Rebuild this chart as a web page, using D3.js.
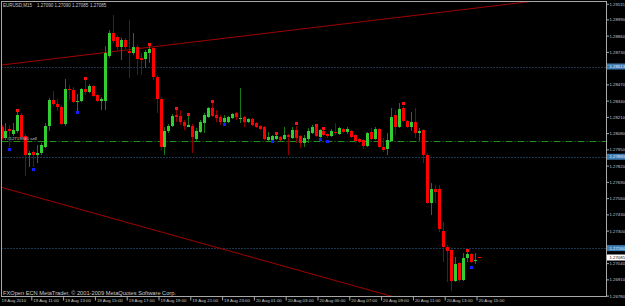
<!DOCTYPE html>
<html>
<head>
<meta charset="utf-8">
<script src="https://cdn.jsdelivr.net/npm/d3@7"></script>
<style>
html, body { margin: 0; padding: 0; background: #000; overflow: hidden; }
text { font-family: "Liberation Sans", Arial, sans-serif; }
</style>
</head>
<body>
<svg id="chart" width="625" height="306"></svg>
<script>
// EURUSD M15, one bar every 15 minutes from 19 Aug 2010 09:00
var opens = [
  1.28129,1.28041,1.28113,1.28073,1.28097,1.28225,1.28057,1.27905,1.27929,1.27905,
  1.27921,1.27969,1.28137,1.28345,1.28313,1.28289,1.28153,1.28433,1.28425,1.28329,
  1.28337,1.28433,1.28409,1.28457,1.28385,1.28337,1.28337,1.28697,1.28881,1.28849,
  1.28769,1.28825,1.28737,1.28721,1.28769,1.28681,1.28673,1.28721,1.28761,1.28529,
  1.28353,1.27969,1.28097,1.28137,1.28225,1.28217,1.28169,1.28129,1.28137,1.28033,
  1.28089,1.28161,1.28209,1.28281,1.28225,1.28209,1.28169,1.28169,1.28201,1.28241,
  1.28193,1.28209,1.28169,1.28193,1.28161,1.28137,1.28129,1.28025,1.28025,1.28033,
  1.28049,1.28033,1.28065,1.28041,1.28105,1.28057,1.28001,1.28033,1.28081,1.28129,
  1.28049,1.28097,1.28073,1.28057,1.28089,1.28073,1.28113,1.28089,1.28097,1.28065,
  1.28033,1.28025,1.27977,1.28089,1.28033,1.28113,1.27969,1.27953,1.28017,1.28225,
  1.28129,1.28281,1.28177,1.28129,1.28169,1.28081,1.28105,1.27905,1.27521,1.27633,
  1.27633,1.27297,1.27169,1.27145,1.26897,1.27041,1.26905,1.27081,1.27113,1.27057,
  1.27090];
var highs = [
  1.28145,1.28161,1.28145,1.28161,1.28257,1.28241,1.28073,1.27937,1.27945,1.27985,
  1.28001,1.28161,1.28361,1.28417,1.28353,1.28305,1.28513,1.28465,1.28449,1.28393,
  1.28441,1.28505,1.28473,1.28465,1.28393,1.28369,1.28777,1.28905,1.29025,1.28865,
  1.28841,1.28841,1.28985,1.28881,1.28785,1.28721,1.28745,1.28785,1.28777,1.28545,
  1.28369,1.28129,1.28153,1.28233,1.28273,1.28265,1.28185,1.28225,1.28153,1.28121,
  1.28185,1.28241,1.28289,1.28329,1.28265,1.28225,1.28225,1.28217,1.28241,1.28249,
  1.28441,1.28217,1.28201,1.28201,1.28169,1.28145,1.28137,1.28089,1.28065,1.28065,
  1.28057,1.28129,1.28073,1.28129,1.28137,1.28065,1.28065,1.28121,1.28145,1.28137,
  1.28113,1.28121,1.28081,1.28113,1.28161,1.28129,1.28121,1.28129,1.28105,1.28073,
  1.28041,1.28033,1.28089,1.28121,1.28129,1.28121,1.28041,1.28081,1.28281,1.28265,
  1.28321,1.28297,1.28185,1.28249,1.28281,1.28121,1.28113,1.27921,1.27681,1.27665,
  1.27665,1.27369,1.27185,1.27161,1.27089,1.27049,1.27121,1.27129,1.27121,1.27121,
  1.27090];
var lows = [
  1.28025,1.28025,1.27969,1.28057,1.28081,1.28033,1.27737,1.27809,1.27809,1.27841,
  1.27905,1.27961,1.28097,1.28297,1.28257,1.28145,1.28137,1.28345,1.28321,1.28257,
  1.28329,1.28385,1.28401,1.28369,1.28329,1.28265,1.28265,1.28681,1.28801,1.28745,
  1.28665,1.28753,1.28521,1.28705,1.28545,1.28545,1.28601,1.28641,1.28505,1.28241,
  1.27945,1.27905,1.28081,1.28129,1.28169,1.28145,1.28105,1.28129,1.27921,1.28009,
  1.28081,1.28081,1.28201,1.28209,1.28169,1.28145,1.28161,1.28161,1.28193,1.28185,
  1.28161,1.28129,1.28161,1.28137,1.28121,1.28105,1.28025,1.28017,1.28017,1.28025,
  1.28017,1.28025,1.27905,1.28033,1.28001,1.27961,1.27969,1.28001,1.28073,1.28049,
  1.28041,1.28057,1.28041,1.28049,1.28065,1.28065,1.28081,1.28073,1.28041,1.28001,
  1.28001,1.27953,1.27969,1.28025,1.28025,1.27961,1.27929,1.27905,1.28009,1.28065,
  1.28121,1.28169,1.28121,1.28097,1.28041,1.28017,1.27841,1.27513,1.27425,1.27521,
  1.27289,1.27049,1.26889,1.26817,1.26889,1.26889,1.26897,1.27049,1.27041,1.27033,
  1.27085];
var closes = [
  1.28041,1.28097,1.28097,1.28105,1.28225,1.28049,1.27905,1.27921,1.27905,1.27921,
  1.27985,1.28137,1.28345,1.28313,1.28289,1.28153,1.28433,1.28425,1.28329,1.28337,
  1.28433,1.28409,1.28457,1.28377,1.28337,1.28353,1.28721,1.28881,1.28817,1.28769,
  1.28825,1.28769,1.28721,1.28769,1.28673,1.28665,1.28729,1.28753,1.28529,1.28353,
  1.27969,1.28097,1.28137,1.28217,1.28209,1.28169,1.28137,1.28145,1.28049,1.28097,
  1.28169,1.28225,1.28281,1.28217,1.28201,1.28169,1.28201,1.28209,1.28233,1.28209,
  1.28201,1.28169,1.28193,1.28145,1.28129,1.28113,1.28033,1.28049,1.28057,1.28057,
  1.28025,1.28065,1.28049,1.28105,1.28041,1.28001,1.28041,1.28097,1.28129,1.28057,
  1.28105,1.28065,1.28057,1.28097,1.28081,1.28121,1.28089,1.28113,1.28049,1.28017,
  1.28009,1.27977,1.28081,1.28033,1.28113,1.27969,1.27945,1.28025,1.28209,1.28129,
  1.28273,1.28177,1.28129,1.28169,1.28081,1.28097,1.27905,1.27521,1.27633,1.27609,
  1.27313,1.27169,1.27137,1.26897,1.27033,1.26905,1.27081,1.27113,1.27049,1.27065,
  1.27085];

// fractal markers (bar index, marker price)
var fractalUpBars = [4, 21, 37, 44, 47, 53, 69, 74, 79, 81, 101, 117];
var fractalUpPrices = [1.28265,1.28521,1.28793,1.28281,1.28233,1.28337,1.28081,1.28161,1.28145,1.28121,1.28321,1.27145];
var fractalDownBars = [2, 8, 19, 56, 68, 80, 82, 118];
var fractalDownPrices = [1.27953,1.27793,1.28249,1.28153,1.28017,1.28033,1.28017,1.27009];

// trend lines, two anchors each (bar, price)
var trendUpBars = [0, 120], trendUpPrices = [1.28625, 1.29083];
var trendDownBars = [0, 98], trendDownPrices = [1.27646, 1.26776];

// horizontal levels
var levelPrices = [1.28613, 1.27891, 1.27160];
var orderPrice = 1.28017;
var orderLabel = "#12719946 sell";
var lastPrice = 1.27085;

// axes
var priceTicks = [1.29115, 1.28990, 1.28860, 1.28730, 1.28470, 1.28340, 1.28210, 1.28080,
  1.27950, 1.27820, 1.27690, 1.27560, 1.27430, 1.27300, 1.27040, 1.26910, 1.26780];
var timeTickBars = [0, 8, 16, 24, 32, 40, 48, 56, 64, 72, 80, 88, 96, 104, 112, 120];
var timeLabels = ["19 Aug 2010", "19 Aug 11:00", "19 Aug 13:00", "19 Aug 15:00", "19 Aug 17:00",
  "19 Aug 19:00", "19 Aug 21:00", "19 Aug 23:00", "20 Aug 01:00", "20 Aug 03:00", "20 Aug 05:00",
  "20 Aug 07:00", "20 Aug 09:00", "20 Aug 11:00", "20 Aug 13:00", "20 Aug 15:00"];

var titleParts = ["EURUSD,M15", "1.27090", "1.27090", "1.27085", "1.27085"];
var copyright = "FXOpen ECN MetaTrader, \u00a9 2001-2009 MetaQuotes Software Corp.";

var svg = d3.select("#chart"),
    width = 625, height = 306,
    pL = 1.5, pR = 606.5, pT = 1.5, pB = 296.5; // "top" is taken by window.top

var bullBody = "#32cd32", bearBody = "#ff0000",
    bullWick = "#157a15", bearWick = "#8e0000",
    grey = "#a8a8a8", textCol = "#c8c8c8";

var x = d3.scaleLinear().domain([0, 120]).range([1.5, 478.5]);
var y = d3.scaleLinear().domain([1.26780, 1.29115]).range([295.625, 3.75]);

svg.append("rect").attr("width", width).attr("height", height).attr("fill", "#000");

svg.append("clipPath").attr("id", "plotclip").append("rect")
  .attr("x", pL + 0.5).attr("y", pT + 0.5)
  .attr("width", pR - pL - 1).attr("height", pB - pT - 1);

var plot = svg.append("g").attr("clip-path", "url(#plotclip)");

function crisp(v) { return Math.round(v) + 0.5; }

// dotted levels
plot.selectAll(".level").data(levelPrices).enter().append("line")
  .attr("x1", pL).attr("x2", pR)
  .attr("y1", function(d) { return crisp(y(d)); })
  .attr("y2", function(d) { return crisp(y(d)); })
  .attr("stroke", "#3a6f9e").attr("stroke-width", 1)
  .attr("stroke-dasharray", "1,2");

// order line
plot.append("line")
  .attr("x1", pL).attr("x2", pR)
  .attr("y1", crisp(y(orderPrice))).attr("y2", crisp(y(orderPrice)))
  .attr("stroke", "#1f8f1f").attr("stroke-dasharray", "7,2,1,2");

// trend lines, extended across the plot
function trendLine(bars, prices) {
  var slope = (prices[1] - prices[0]) / (bars[1] - bars[0]);
  var b0 = x.invert(pL), b1 = x.invert(pR);
  return [[pL, y(prices[0] + (b0 - bars[0]) * slope)], [pR, y(prices[0] + (b1 - bars[0]) * slope)]];
}
[[trendUpBars, trendUpPrices], [trendDownBars, trendDownPrices]].forEach(function(t) {
  var p = trendLine(t[0], t[1]);
  plot.append("line")
    .attr("x1", p[0][0]).attr("y1", p[0][1])
    .attr("x2", p[1][0]).attr("y2", p[1][1])
    .attr("stroke", "#a00000").attr("stroke-width", 1);
});

// candles
var bars = opens.map(function(o, i) {
  return { i: i, o: o, h: highs[i], l: lows[i], c: closes[i] };
});
var candle = plot.append("g").attr("shape-rendering", "crispEdges")
  .selectAll("g").data(bars).enter().append("g");

candle.append("line")
  .attr("x1", function(d) { return crisp(x(d.i)); })
  .attr("x2", function(d) { return crisp(x(d.i)); })
  .attr("y1", function(d) { return y(d.h); })
  .attr("y2", function(d) { return y(d.l); })
  .attr("stroke", function(d) { return d.c >= d.o ? bullWick : bearWick; });

candle.append("rect")
  .attr("x", function(d) { return Math.round(x(d.i)) - 1; })
  .attr("width", 3)
  .attr("y", function(d) { return Math.round(y(Math.max(d.o, d.c))); })
  .attr("height", function(d) { return Math.max(1, Math.round(Math.abs(y(d.o) - y(d.c)))); })
  .attr("fill", function(d) { return d.c >= d.o ? bullBody : bearBody; });

// fractals
var marks = plot.append("g").attr("shape-rendering", "crispEdges");
marks.selectAll(".fup").data(fractalUpBars).enter().append("rect")
  .attr("x", function(d) { return Math.round(x(d)) - 1; })
  .attr("y", function(d, i) { return Math.round(y(fractalUpPrices[i])) - 1; })
  .attr("width", 3).attr("height", 3).attr("fill", "#ff1010");
marks.selectAll(".fdn").data(fractalDownBars).enter().append("rect")
  .attr("x", function(d) { return Math.round(x(d)) - 1; })
  .attr("y", function(d, i) { return Math.round(y(fractalDownPrices[i])) - 1; })
  .attr("width", 3).attr("height", 3).attr("fill", "#1020ff");

// order label
plot.append("text").attr("x", 7).attr("y", crisp(y(orderPrice)) - 2)
  .attr("font-size", 4.4).attr("fill", textCol).text(orderLabel);

// frame
svg.append("rect").attr("x", pL).attr("y", pT)
  .attr("width", pR - pL).attr("height", pB - pT)
  .attr("fill", "none").attr("stroke", grey).attr("shape-rendering", "crispEdges");

// price axis
var yAxis = svg.append("g").attr("transform", "translate(" + pR + ",0)")
  .call(d3.axisRight(y).tickValues(priceTicks).tickFormat(d3.format(".5f"))
    .tickSize(2.5).tickPadding(0.5));
yAxis.select(".domain").remove();
yAxis.selectAll("line").attr("stroke", grey);
yAxis.selectAll("text").attr("fill", textCol).attr("font-size", 4.3)
  .attr("font-family", "Liberation Sans, Arial, sans-serif");

// highlighted price labels
function priceBox(p, bg, fg) {
  var yc = y(p);
  svg.append("rect").attr("x", 607).attr("y", yc - 3).attr("width", 18).attr("height", 6)
    .attr("fill", bg);
  svg.append("text").attr("x", 609.5).attr("y", yc).attr("dy", "0.35em")
    .attr("font-size", 4.3).attr("fill", fg).text(d3.format(".5f")(p));
}
levelPrices.forEach(function(p) { priceBox(p, "#3f7cb4", "#e8eef4"); });
priceBox(lastPrice, "#ffffff", "#000000");

// time axis
var xAxis = svg.append("g").attr("transform", "translate(0," + pB + ")")
  .call(d3.axisBottom(x).tickValues(timeTickBars)
    .tickFormat(function(d, i) { return timeLabels[i]; }).tickSize(4));
xAxis.select(".domain").remove();
xAxis.selectAll("line").attr("stroke", grey).attr("transform", "translate(-2,0)")
  .filter(function(d) { return d === 0; }).remove();
xAxis.selectAll("text").attr("fill", textCol).attr("font-size", 4.4)
  .attr("font-family", "Liberation Sans, Arial, sans-serif")
  .attr("text-anchor", "start").attr("x", -0.5).attr("y", 2.6);

// title and copyright
var titleX = [3, 37, 54.5, 72, 90];
svg.selectAll(".title").data(titleParts).enter().append("text")
  .attr("x", function(d, i) { return titleX[i]; }).attr("y", 7.2)
  .attr("font-size", 4.5).attr("fill", textCol).text(function(d) { return d; });

svg.append("text").attr("x", 3).attr("y", 295.3)
  .attr("font-size", 4.6).attr("fill", textCol)
  .attr("textLength", 173).attr("lengthAdjust", "spacingAndGlyphs")
  .text(copyright);
</script>
</body>
</html>
